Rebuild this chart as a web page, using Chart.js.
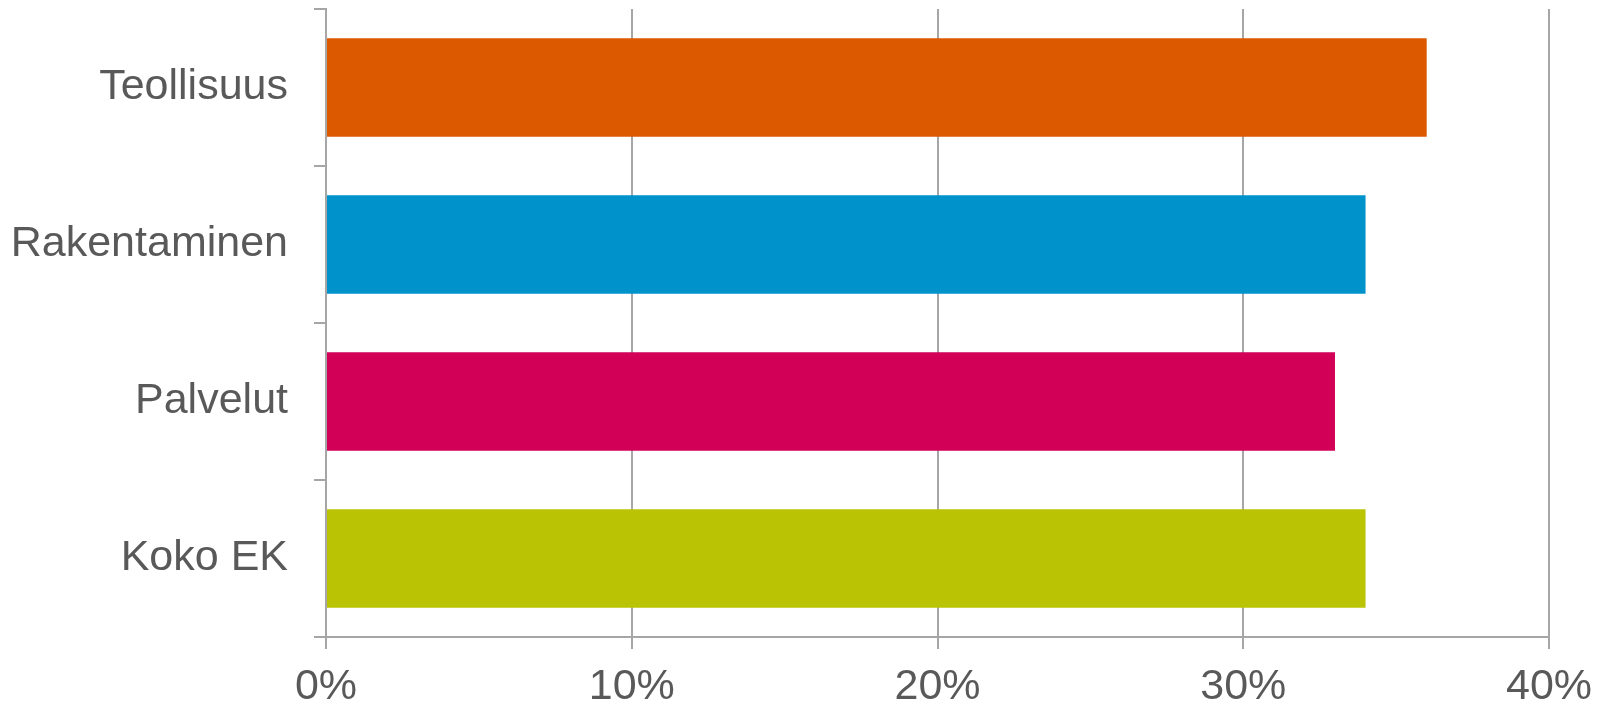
<!DOCTYPE html>
<html>
<head>
<meta charset="utf-8">
<script src="https://cdn.jsdelivr.net/npm/chart.js@4"></script>
<style>
  html, body { margin: 0; padding: 0; background: #fff; }
  #wrap { width: 1604px; height: 707px; }
</style>
</head>
<body>
<div id="wrap"><canvas id="chart" width="1604" height="707"></canvas></div>
<script>
const categories = ["Teollisuus", "Rakentaminen", "Palvelut", "Koko EK"];
const values = [36, 34, 33, 34];
const barColors = ["#DD5900", "#0092CA", "#D20056", "#BAC405"];
const xTicks = [0, 10, 20, 30, 40];

const GRID = "#a6a6a6";
const TEXT = "#595959";
const FONT = "'Liberation Sans', Arial, sans-serif";

new Chart(document.getElementById("chart"), {
  type: "bar",
  data: {
    labels: categories,
    datasets: [{
      data: values,
      backgroundColor: barColors,
      borderWidth: 0,
      categoryPercentage: 1,
      barPercentage: 0.627
    }]
  },
  options: {
    indexAxis: "y",
    responsive: false,
    animation: false,
    devicePixelRatio: 1,
    layout: { padding: { top: 9, right: 55, left: 0, bottom: 0 } },
    plugins: { legend: { display: false }, tooltip: { enabled: false } },
    scales: {
      x: {
        min: 0,
        max: 40,
        afterBuildTicks: s => { s.ticks = xTicks.map(v => ({ value: v })); },
        afterFit: s => { s.height = 70; s.paddingLeft = 0; s.paddingRight = 0; },
        grid: { color: GRID, lineWidth: 2, tickLength: 12, drawTicks: true },
        border: { color: GRID, width: 2 },
        ticks: {
          color: TEXT,
          font: { family: FONT, size: 43 },
          padding: 12,
          maxRotation: 0,
          callback: v => v + "%"
        }
      },
      y: {
        afterFit: s => { s.width = 326; s.paddingTop = 0; s.paddingBottom = 0; },
        grid: { color: GRID, lineWidth: 2, tickLength: 12, drawOnChartArea: false, offset: true },
        border: { color: GRID, width: 2 },
        ticks: {
          color: TEXT,
          font: { family: FONT, size: 43 },
          padding: 26
        }
      }
    }
  }
});
</script>
</body>
</html>
